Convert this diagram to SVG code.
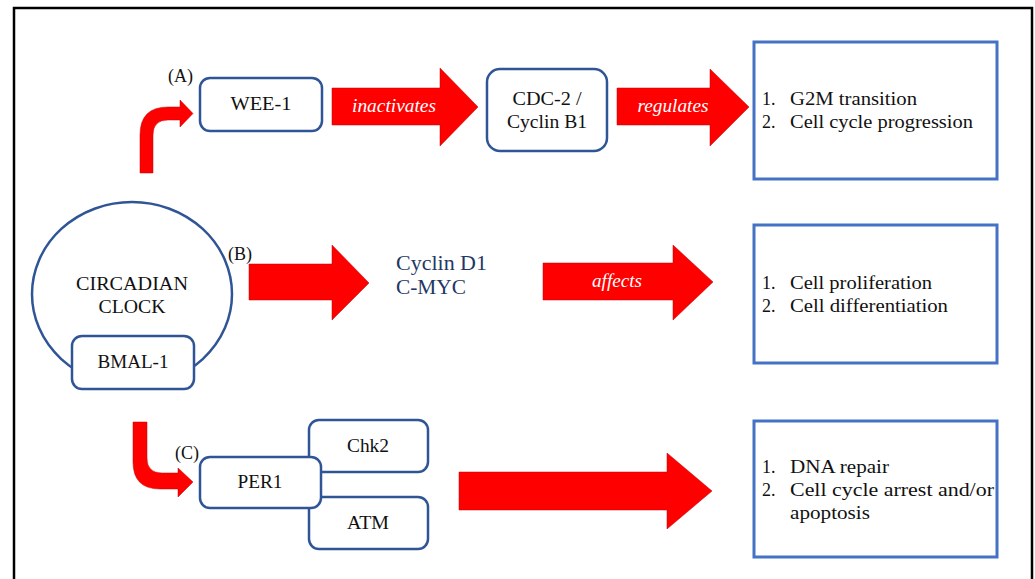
<svg xmlns="http://www.w3.org/2000/svg" width="1035" height="579" viewBox="0 0 1035 579" font-family="'Liberation Serif', 'Times New Roman', 'DejaVu Serif', serif">
<style>
.node{fill:#fff;stroke:#2f5597;stroke-width:2.5}
.out{fill:#fff;stroke:#4472c4;stroke-width:3}
.arr{fill:#ff0000;stroke:#c00000;stroke-width:0.5}
text{font-family:'Liberation Serif','Times New Roman','DejaVu Serif',serif;font-size:18px;fill:#111}
.c{text-anchor:middle}
.it{font-style:italic;fill:#fff;text-anchor:middle}
.navy{fill:#1f3864;font-size:21px}
</style>
<rect x="0" y="0" width="1035" height="579" fill="#fff"/>
<rect x="14" y="8" width="1018" height="600" fill="none" stroke="#000" stroke-width="2.5"/>
<g id="connectors">
<path class="arr" d="M140,173 L140,135 Q140,107 168,107 L180,107 L180,100 L193,113.5 L180,127 L180,120 L168,120 Q153,120 153,135 L153,173 Z"/>
<path class="arr" d="M332,88 L440,88 L440,68 L478,107 L440,146 L440,125 L332,125 Z"/>
<path class="arr" d="M617,88 L710,88 L710,69 L749,107 L710,146 L710,125 L617,125 Z"/>
<path class="arr" d="M249,264 L332,264 L332,245 L369,283 L332,320 L332,300 L249,300 Z"/>
<path class="arr" d="M543,263 L673,263 L673,245 L713,282 L673,320 L673,300 L543,300 Z"/>
<path class="arr" d="M133,422 L147,422 L147,458 Q147,473 162,473 L178,473 L178,468 L193,482 L178,497 L178,489 L160,489 Q133,489 133,462 Z"/>
<path class="arr" d="M459,472 L667,472 L667,453 L712,491 L667,529 L667,510 L459,510 Z"/>
<text class="it" x="394" y="112" textLength="84" lengthAdjust="spacingAndGlyphs">inactivates</text>
<text class="it" x="673" y="112" textLength="71" lengthAdjust="spacingAndGlyphs">regulates</text>
<text class="it" x="617" y="287" textLength="50" lengthAdjust="spacingAndGlyphs">affects</text>
</g>
<g id="clock">
<ellipse cx="132" cy="294" rx="100" ry="92" fill="#fff" stroke="#2f5597" stroke-width="2.5"/>
<text class="c" x="132" y="290" textLength="112" lengthAdjust="spacingAndGlyphs">CIRCADIAN</text>
<text class="c" x="132" y="313" textLength="67" lengthAdjust="spacingAndGlyphs">CLOCK</text>
</g>
<g id="bmal1">
<rect class="node" x="72" y="336" width="122" height="53" rx="10"/>
<text class="c" x="133" y="368" textLength="71" lengthAdjust="spacingAndGlyphs">BMAL-1</text>
</g>
<g id="labelA"><text x="168" y="82">(A)</text></g>
<g id="labelB"><text x="228" y="260">(B)</text></g>
<g id="labelC"><text x="175" y="459">(C)</text></g>
<g id="wee1">
<rect class="node" x="200" y="78" width="122" height="53" rx="10"/>
<text class="c" x="261" y="110" textLength="61" lengthAdjust="spacingAndGlyphs">WEE-1</text>
</g>
<g id="cdc2">
<rect class="node" x="487" y="69" width="120" height="82" rx="13"/>
<text class="c" x="547" y="105" textLength="69" lengthAdjust="spacingAndGlyphs">CDC-2 /</text>
<text class="c" x="547" y="128" textLength="80" lengthAdjust="spacingAndGlyphs">Cyclin B1</text>
</g>
<g id="cyclinD1">
<text class="navy" x="396" y="270" textLength="91" lengthAdjust="spacingAndGlyphs">Cyclin D1</text>
<text class="navy" x="396" y="294" textLength="70" lengthAdjust="spacingAndGlyphs">C-MYC</text>
</g>
<g id="chk2">
<rect class="node" x="309" y="420" width="119" height="52" rx="10"/>
<text class="c" x="368" y="452" textLength="42" lengthAdjust="spacingAndGlyphs">Chk2</text>
</g>
<g id="atm">
<rect class="node" x="309" y="497" width="119" height="52" rx="10"/>
<text class="c" x="368" y="529" textLength="42" lengthAdjust="spacingAndGlyphs">ATM</text>
</g>
<g id="per1">
<rect class="node" x="200" y="457" width="121" height="51" rx="10"/>
<text class="c" x="260" y="488" textLength="45" lengthAdjust="spacingAndGlyphs">PER1</text>
</g>
<g id="outcome1">
<rect class="out" x="754" y="42" width="243" height="137"/>
<text x="762" y="105">1.</text><text x="790" y="105" textLength="127" lengthAdjust="spacingAndGlyphs">G2M transition</text>
<text x="762" y="128">2.</text><text x="790" y="128" textLength="183" lengthAdjust="spacingAndGlyphs">Cell cycle progression</text>
</g>
<g id="outcome2">
<rect class="out" x="754" y="225" width="243" height="138"/>
<text x="762" y="289">1.</text><text x="790" y="289" textLength="142" lengthAdjust="spacingAndGlyphs">Cell proliferation</text>
<text x="762" y="312">2.</text><text x="790" y="312" textLength="158" lengthAdjust="spacingAndGlyphs">Cell differentiation</text>
</g>
<g id="outcome3">
<rect class="out" x="754" y="421" width="243" height="136"/>
<text x="762" y="473">1.</text><text x="790" y="473" textLength="99" lengthAdjust="spacingAndGlyphs">DNA repair</text>
<text x="762" y="496">2.</text><text x="790" y="496" textLength="204" lengthAdjust="spacingAndGlyphs">Cell cycle arrest and/or</text>
<text x="790" y="519" textLength="80" lengthAdjust="spacingAndGlyphs">apoptosis</text>
</g>
</svg>
